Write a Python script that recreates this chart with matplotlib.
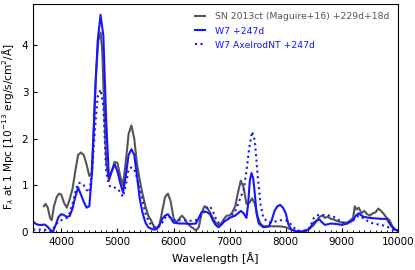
import numpy as np
import matplotlib
matplotlib.use("Agg")
import matplotlib.pyplot as plt
from matplotlib.ticker import MultipleLocator

# observed spectrum SN 2013ct
obs_wl = [3690, 3720, 3760, 3800, 3830, 3870, 3920, 3960, 4000, 4050, 4100, 4150,
          4200, 4250, 4300, 4350, 4400, 4450, 4500, 4540, 4580, 4620, 4660, 4700,
          4730, 4760, 4800, 4850, 4900, 4950, 5000, 5050, 5100, 5150, 5200, 5250,
          5300, 5350, 5400, 5450, 5500, 5550, 5600, 5650, 5700, 5750, 5800, 5850,
          5900, 5950, 6000, 6050, 6100, 6150, 6200, 6250, 6300, 6350, 6400, 6450,
          6500, 6550, 6600, 6650, 6700, 6750, 6800, 6850, 6900, 6950, 7000, 7050,
          7100, 7150, 7200, 7250, 7300, 7350, 7400, 7450, 7500, 7550, 7600, 7700,
          7800, 7900, 8000, 8100, 8200, 8300, 8400, 8500, 8600, 8650, 8700, 8750,
          8800, 8850, 8900, 9000, 9100, 9200, 9230, 9260, 9300, 9350, 9400, 9450,
          9500, 9550, 9600, 9650, 9700, 9750, 9800, 9850, 9900, 9950, 10000]
obs_fl = [0.55, 0.60, 0.52, 0.30, 0.25, 0.55, 0.75, 0.82, 0.80, 0.62, 0.52, 0.70,
          0.92, 1.30, 1.65, 1.70, 1.65, 1.45, 1.20, 1.25, 2.20, 3.40, 4.10, 4.27,
          3.90, 2.80, 1.50, 1.10, 1.30, 1.50, 1.48, 1.20, 1.00, 1.50, 2.10, 2.28,
          2.00, 1.45, 1.10, 0.80, 0.55, 0.35, 0.25, 0.12, 0.08, 0.15, 0.45, 0.75,
          0.82, 0.65, 0.30, 0.20, 0.28, 0.35, 0.28, 0.18, 0.12, 0.08, 0.03, 0.10,
          0.40, 0.55, 0.52, 0.42, 0.30, 0.20, 0.15, 0.18, 0.28, 0.35, 0.35, 0.42,
          0.55, 0.85, 1.10, 0.95, 0.60, 0.62, 0.72, 0.60, 0.32, 0.18, 0.12, 0.12,
          0.12, 0.12, 0.10, 0.05, 0.01, 0.00, 0.04, 0.15, 0.32, 0.35, 0.30, 0.33,
          0.28, 0.27, 0.24, 0.20, 0.20, 0.30, 0.55, 0.48, 0.52, 0.40, 0.45, 0.38,
          0.35, 0.40, 0.42, 0.50, 0.45, 0.38, 0.30, 0.25, 0.12, 0.05, 0.02]

# W7 model +247d
w7_wl = [3500, 3550, 3600, 3650, 3700, 3750, 3800, 3850, 3900, 3950, 4000, 4050,
         4100, 4150, 4200, 4250, 4300, 4350, 4400, 4450, 4500, 4550, 4600, 4650,
         4700, 4750, 4800, 4850, 4900, 4950, 5000, 5050, 5100, 5150, 5200, 5250,
         5300, 5350, 5400, 5450, 5500, 5550, 5600, 5650, 5700, 5750, 5800, 5850,
         5900, 5950, 6000, 6100, 6200, 6300, 6400, 6450, 6500, 6550, 6600, 6650,
         6700, 6750, 6800, 6850, 6900, 7000, 7100, 7200, 7250, 7300, 7330, 7360,
         7390, 7420, 7450, 7480, 7520, 7600, 7700, 7750, 7800, 7850, 7900, 7950,
         8000, 8050, 8100, 8200, 8300, 8400, 8450, 8500, 8550, 8600, 8650, 8700,
         8800, 8900, 9000, 9100, 9200, 9250, 9300, 9350, 9400, 9500, 9600, 9700,
         9800, 9850, 9900, 9950, 10000]
w7_fl = [0.22, 0.17, 0.15, 0.15, 0.16, 0.12, 0.05, 0.00, 0.15, 0.32, 0.38, 0.36,
         0.32, 0.34, 0.50, 0.75, 0.95, 0.80, 0.65, 0.52, 0.55, 1.30, 2.90, 4.10,
         4.65, 4.20, 2.40, 1.15, 1.30, 1.45, 1.30, 1.05, 0.85, 1.20, 1.65, 1.77,
         1.65, 1.20, 0.70, 0.40, 0.20, 0.10, 0.07, 0.05, 0.06, 0.15, 0.28, 0.35,
         0.38, 0.30, 0.20, 0.18, 0.18, 0.17, 0.18, 0.30, 0.42, 0.44, 0.42, 0.38,
         0.25, 0.15, 0.10, 0.15, 0.22, 0.30, 0.35, 0.45, 0.40, 0.30, 0.60, 1.10,
         1.26, 1.15, 0.80, 0.40, 0.18, 0.10, 0.12, 0.25, 0.45, 0.55, 0.58, 0.52,
         0.40, 0.15, 0.05, 0.01, 0.01, 0.05, 0.12, 0.20, 0.24, 0.27, 0.20, 0.15,
         0.18, 0.17, 0.15, 0.18, 0.25, 0.35, 0.40, 0.35, 0.32, 0.30, 0.29, 0.28,
         0.28, 0.18, 0.10, 0.05, 0.03]

# W7 AxelrodNT model +247d
ax_wl = [3500, 3600, 3700, 3750, 3800, 3850, 3900, 3950, 4000, 4050, 4100, 4150,
         4200, 4250, 4300, 4350, 4400, 4450, 4500, 4550, 4600, 4650, 4700, 4750,
         4800, 4850, 4900, 4950, 5000, 5050, 5100, 5150, 5200, 5250, 5300, 5350,
         5400, 5450, 5500, 5550, 5600, 5650, 5700, 5750, 5800, 5850, 5900, 5950,
         6000, 6100, 6200, 6300, 6400, 6500, 6550, 6600, 6650, 6700, 6750, 6800,
         6900, 7000, 7100, 7200, 7250, 7300, 7350, 7400, 7450, 7500, 7550, 7600,
         7700, 7800, 7900, 8000, 8050, 8100, 8200, 8300, 8400, 8450, 8500, 8550,
         8600, 8700, 8800, 8900, 9000, 9100, 9200, 9300, 9400, 9500, 9600, 9700,
         9800, 9900, 10000]
ax_fl = [0.05, 0.05, 0.05, 0.03, 0.00, 0.05, 0.15, 0.22, 0.25, 0.28, 0.30, 0.40,
         0.60, 0.85, 1.05, 1.05, 1.00, 0.90, 0.85, 1.30, 2.20, 2.90, 3.05, 2.70,
         1.30, 1.00, 0.95, 0.95, 0.93, 0.85, 0.75, 1.00, 1.35, 1.38, 1.35, 1.15,
         0.90, 0.65, 0.40, 0.25, 0.15, 0.10, 0.08, 0.12, 0.20, 0.30, 0.35, 0.30,
         0.25, 0.25, 0.25, 0.24, 0.25, 0.35, 0.45, 0.52, 0.55, 0.45, 0.30, 0.20,
         0.22, 0.30, 0.45, 0.75, 0.90, 1.30, 1.80, 2.15, 1.95, 1.20, 0.60, 0.30,
         0.20, 0.22, 0.25, 0.25, 0.22, 0.15, 0.03, 0.02, 0.05, 0.15, 0.30, 0.35,
         0.37, 0.36, 0.35, 0.30, 0.20, 0.20, 0.25, 0.35, 0.28, 0.20, 0.17, 0.15,
         0.12, 0.05, 0.02]

fig = plt.figure(figsize=(4.15, 2.70), dpi=100)
ax = fig.add_axes([0.080, 0.141, 0.879, 0.844])

ax.plot(obs_wl, obs_fl, color="#555555", lw=1.5, label="SN 2013ct (Maguire+16) +229d+18d")
ax.plot(w7_wl, w7_fl, color="#1515ff", lw=1.5, label="W7 +247d")
ax.plot(ax_wl, ax_fl, color="#1515ff", lw=1.5, ls=":", label="W7 AxelrodNT +247d")

ax.set_xlim(3500, 10000)
ax.set_ylim(0, 4.88)
ax.xaxis.set_major_locator(MultipleLocator(1000))
ax.xaxis.set_minor_locator(MultipleLocator(100))
ax.yaxis.set_major_locator(MultipleLocator(1))
ax.tick_params(direction="in", labelsize=7.5, length=3)
ax.tick_params(which="minor", direction="in", length=1.5)
ax.set_xlabel("Wavelength [Å]", fontsize=8)
ax.set_ylabel("F$_\\lambda$ at 1 Mpc [10$^{-13}$ erg/s/cm$^2$/Å]", fontsize=7.6)
ax.yaxis.set_label_coords(-0.046, 0.46)

leg = ax.legend(loc="upper right", frameon=False, fontsize=6.7, handlelength=1.1,
                handletextpad=1.1, labelspacing=0.55)
for txt, line in zip(leg.get_texts(), leg.get_lines()):
    txt.set_color(line.get_color())

plt.savefig("out.png", dpi=100)
